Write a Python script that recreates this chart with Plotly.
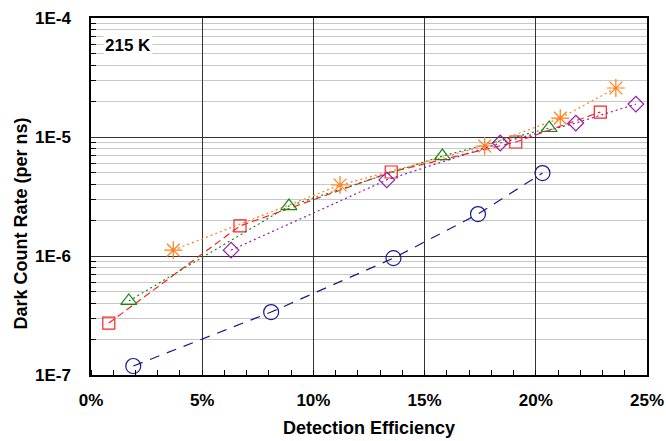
import plotly.graph_objects as go

# Detection efficiency (%) and dark count rate (per ns) for each series
blue_x = [1.9, 8.1, 13.6, 17.4, 20.3]
blue_y = [1.19e-7, 3.38e-7, 9.6e-7, 2.25e-6, 4.98e-6]

red_x = [0.8, 6.7, 13.5, 19.1, 22.9]
red_y = [2.73e-7, 1.79e-6, 5.08e-6, 9.08e-6, 1.62e-5]

green_x = [1.7, 8.9, 15.8, 20.6]
green_y = [4.19e-7, 2.63e-6, 6.92e-6, 1.19e-5]

orange_x = [3.7, 11.2, 17.7, 21.1, 23.6]
orange_y = [1.12e-6, 3.95e-6, 8.4e-6, 1.44e-5, 2.58e-5]

purple_x = [6.3, 13.3, 18.4, 21.8, 24.5]
purple_y = [1.12e-6, 4.36e-6, 8.9e-6, 1.31e-5, 1.89e-5]

x_ticks = [0, 5, 10, 15, 20, 25]
x_ticktext = ["0%", "5%", "10%", "15%", "20%", "25%"]
x_minor = list(range(0, 26))
y_ticks = [1e-7, 1e-6, 1e-5, 1e-4]
y_ticktext = ["1E-7", "1E-6", "1E-5", "1E-4"]
y_minor = [m * 10.0 ** e for e in (-7, -6, -5) for m in range(2, 10)]

FONT = "Liberation Sans, Arial, sans-serif"

series = [
    (blue_x, blue_y, "#1a1a8c", "circle-open", 15, "10px,8px"),
    (red_x, red_y, "#ff2020", "square-open", 12, "7px,4px"),
    (green_x, green_y, "#138a13", "triangle-up-open", 14, "2px,3px"),
    (orange_x, orange_y, "#ff7f1a", "asterisk-open", 15, "2px,3px"),
    (purple_x, purple_y, "#8e1ea8", "diamond-open", 12, "2px,3px"),
]

fig = go.Figure()
for xs, ys, col, sym, sz, dash in series:
    fig.add_trace(go.Scatter(
        x=xs, y=ys, mode="lines+markers",
        line=dict(color=col, width=1.2, dash=dash),
        marker=dict(symbol=sym, size=sz, color=col, line=dict(color=col, width=1.2)),
        showlegend=False,
    ))

fig.update_layout(
    width=666, height=441,
    margin=dict(l=91, r=19, t=18, b=66),
    paper_bgcolor="white", plot_bgcolor="white",
    font=dict(family=FONT, color="black"),
    xaxis=dict(
        range=[0, 25], tickvals=x_ticks, ticktext=x_ticktext,
        showgrid=True, gridcolor="#333333", gridwidth=1,
        ticks="", showline=True, linecolor="black", linewidth=1.5, mirror=True,
        tickfont=dict(size=17, weight="bold", family=FONT),
        ticklabelstandoff=9, automargin=False,
        minor=dict(tickvals=x_minor, ticks="inside", ticklen=5, tickcolor="black", showgrid=False),
        title=dict(text="Detection Efficiency", font=dict(size=18, weight="bold", family=FONT), standoff=12),
        zeroline=False,
    ),
    yaxis=dict(
        type="log", range=[-7, -4], tickvals=y_ticks, ticktext=y_ticktext,
        showgrid=True, gridcolor="#333333", gridwidth=1,
        ticks="", showline=True, linecolor="black", linewidth=1.5, mirror=True,
        tickfont=dict(size=17, weight="bold", family=FONT),
        ticklabelstandoff=15, automargin=False,
        minor=dict(tickvals=y_minor, ticks="inside", ticklen=5, tickcolor="black",
                   showgrid=True, gridcolor="#c8c8c8", gridwidth=1),
        zeroline=False,
    ),
    annotations=[
        dict(
            text="<b>215 K</b>", xref="paper", yref="paper", x=0.022, y=0.924,
            xanchor="left", yanchor="middle", showarrow=False, bgcolor="white",
            font=dict(size=17, family=FONT, color="black"),
        ),
        dict(
            text="<b>Dark Count Rate (per ns)</b>", xref="paper", yref="paper",
            x=0, y=0.5, xanchor="center", yanchor="middle", xshift=-71, yshift=-27,
            textangle=-90, showarrow=False,
            font=dict(size=18, family=FONT, color="black"),
        ),
    ],
)

fig.write_html(
    "out.html",
    config={"displayModeBar": False},
    post_script="document.body.style.margin='0';document.body.style.padding='0';",
)
